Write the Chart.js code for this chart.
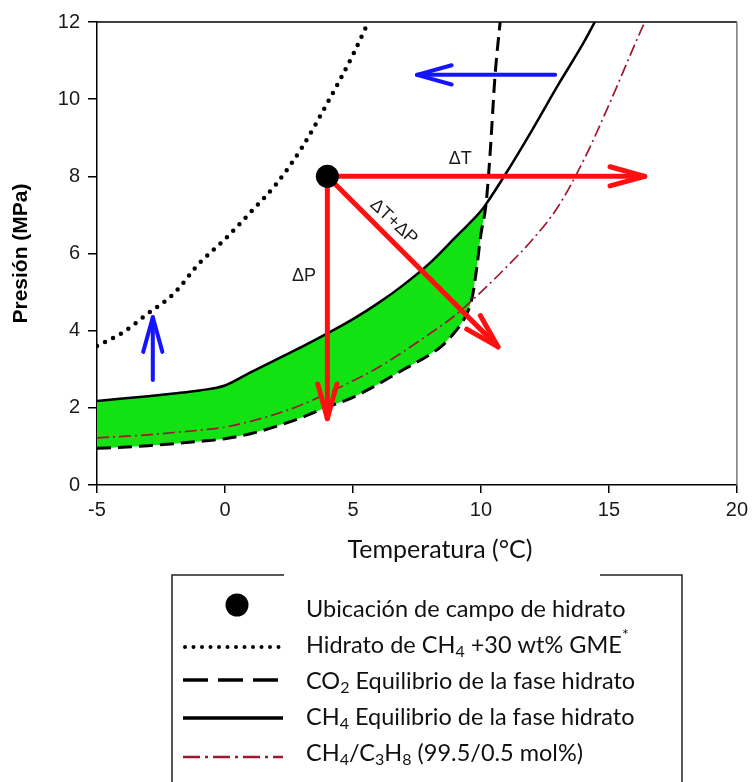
<!DOCTYPE html>
<html>
<head>
<meta charset="utf-8">
<script src="https://cdn.jsdelivr.net/npm/chart.js@4.4.1/dist/chart.umd.min.js"></script>
<style>
  body { margin: 0; background: #fff; }
  #wrap { width: 753px; height: 782px; position: relative; }
</style>
</head>
<body>
<div id="wrap"><canvas id="chart"></canvas></div>
<script>
// values (T in °C, P in MPa)
const gmeT = [-5, -4, -3, -2, -1, 0, 1, 2, 3, 4, 5, 5.6];
const gmeP = [3.6, 3.95, 4.45, 4.96, 5.75, 6.37, 7.07, 7.8, 8.74, 9.9, 11.15, 12];

const ch4T = [-5, -4, -3, -2, -1, 0, 1, 2, 3, 4, 5, 6, 7, 8, 9, 10, 10.2, 11, 12, 13, 14, 14.45];
const ch4P = [2.18, 2.24, 2.3, 2.37, 2.45, 2.58, 2.92, 3.25, 3.58, 3.93, 4.3, 4.72, 5.2, 5.75, 6.42, 7.1, 7.28, 8.1, 9.2, 10.35, 11.45, 12];

const co2T = [-5, -4, -3, -2, -1, 0, 1, 2, 3, 4, 5, 6, 7, 8, 8.5, 9, 9.3, 9.55, 9.7, 9.85, 10, 10.2, 10.36, 10.55, 10.75];
const co2P = [0.95, 0.98, 1.02, 1.07, 1.13, 1.2, 1.33, 1.52, 1.75, 2.02, 2.27, 2.62, 3.0, 3.38, 3.62, 3.98, 4.25, 4.6, 5.0, 5.7, 6.5, 7.28, 8.6, 10.6, 12];

const mixT = [-5, -4, -3, -2, -1, 0, 1, 2, 3, 4, 5, 6, 7, 8, 9, 10, 11, 12, 13, 14, 15, 16, 16.4];
const mixP = [1.22, 1.26, 1.3, 1.36, 1.42, 1.5, 1.65, 1.84, 2.08, 2.38, 2.7, 3.05, 3.47, 3.92, 4.4, 5.0, 5.65, 6.35, 7.2, 8.4, 9.85, 11.4, 12];

const siteT = [4];
const siteP = [8];

// arrows: [fromT, fromP, toT, toP]
const redArrows = [[4, 8, 16.4, 8], [4, 8, 4, 1.72], [4, 8, 10.67, 3.58]];
const blueArrows = [[12.9, 10.63, 7.5, 10.63], [-2.82, 2.72, -2.82, 4.35]];

const xTicks = [-5, 0, 5, 10, 15, 20];
const yTicks = [0, 2, 4, 6, 8, 10, 12];

const legendLabels = [
  [['Ubicación de campo de hidrato', 0]],
  [['Hidrato de CH', 0], ['4', 1], [' +30 wt% GME', 0], ['*', 2]],
  [['CO', 0], ['2', 1], [' Equilibrio de la fase hidrato', 0]],
  [['CH', 0], ['4', 1], [' Equilibrio de la fase hidrato', 0]],
  [['CH', 0], ['4', 1], ['/C', 0], ['3', 1], ['H', 0], ['8', 1], [' (99.5/0.5 mol%)', 0]]
];

const pts = (xs, ys) => xs.map((x, i) => ({ x: x, y: ys[i] }));
const ch4Pts = pts(ch4T, ch4P);
const co2Pts = pts(co2T, co2P);
// green region between the CH4 and CO2 curves, up to where they meet
const greenPts = ch4Pts.filter(p => p.x <= 10.2).concat(co2Pts.filter(p => p.x <= 10.2).reverse());

const RED = '#ff1010';
const BLUE = '#1414ff';
const MIX = '#a01830';
const SANS = "'Liberation Sans', Arial, sans-serif";
const TXT = "Lato, 'Open Sans', sans-serif";

function arrow(ctx, x1, y1, x2, y2, color, w) {
  const a = Math.atan2(y2 - y1, x2 - x1), L = 36, h = 0.27;
  ctx.save();
  ctx.strokeStyle = color;
  ctx.lineWidth = w;
  ctx.lineCap = 'round';
  ctx.lineJoin = 'round';
  ctx.beginPath();
  ctx.moveTo(x1, y1);
  ctx.lineTo(x2, y2);
  ctx.stroke();
  ctx.beginPath();
  ctx.moveTo(x2 - L * Math.cos(a - h), y2 - L * Math.sin(a - h));
  ctx.lineTo(x2, y2);
  ctx.lineTo(x2 - L * Math.cos(a + h), y2 - L * Math.sin(a + h));
  ctx.stroke();
  ctx.restore();
}

function richText(ctx, parts, x, y, size) {
  let cx = x;
  parts.forEach(([t, kind]) => {
    const s = kind === 0 ? size : Math.round(size * 0.66);
    ctx.font = s + 'px ' + TXT;
    const dy = kind === 1 ? size * 0.3 : kind === 2 ? -size * 0.42 : 0;
    ctx.fillText(t, cx, y + dy);
    cx += ctx.measureText(t).width;
  });
}

const extras = {
  id: 'extras',
  afterDatasetDraw(chart, args) {
    if (args.index !== 1) return;
    const { ctx, scales: { x, y } } = chart;
    ctx.save();
    ctx.beginPath();
    ctx.rect(chart.chartArea.left, chart.chartArea.top, chart.chartArea.width, chart.chartArea.height);
    ctx.clip();
    redArrows.forEach(a => arrow(ctx, x.getPixelForValue(a[0]), y.getPixelForValue(a[1]),
      x.getPixelForValue(a[2]), y.getPixelForValue(a[3]), RED, 5));
    blueArrows.forEach(a => arrow(ctx, x.getPixelForValue(a[0]), y.getPixelForValue(a[1]),
      x.getPixelForValue(a[2]), y.getPixelForValue(a[3]), BLUE, 4));
    ctx.restore();
  },
  afterDatasetsDraw(chart) {
    const { ctx, scales: { x, y }, chartArea: ca } = chart;
    ctx.save();
    ctx.fillStyle = '#1a1a1a';
    ctx.font = '18px ' + SANS;
    ctx.textAlign = 'center';
    ctx.textBaseline = 'middle';
    ctx.fillText('ΔT', x.getPixelForValue(9.19), y.getPixelForValue(8.45));
    ctx.fillText('ΔP', x.getPixelForValue(3.09), y.getPixelForValue(5.42));
    ctx.translate(x.getPixelForValue(6.59), y.getPixelForValue(6.82));
    ctx.rotate(43 * Math.PI / 180);
    ctx.fillText('ΔT+ΔP', 0, 0);
    ctx.restore();
    // top and right frame
    ctx.save();
    ctx.strokeStyle = '#000';
    ctx.lineWidth = 1.5;
    ctx.beginPath();
    ctx.moveTo(ca.left, ca.top);
    ctx.lineTo(ca.right, ca.top);
    ctx.stroke();
    ctx.strokeStyle = '#777';
    ctx.beginPath();
    ctx.moveTo(ca.right, ca.top);
    ctx.lineTo(ca.right, ca.bottom);
    ctx.stroke();
    ctx.restore();
  },
  afterDraw(chart) {
    const ctx = chart.ctx;
    ctx.save();
    // x axis title
    ctx.fillStyle = '#111';
    ctx.font = '25px ' + TXT;
    ctx.textAlign = 'center';
    ctx.textBaseline = 'middle';
    ctx.fillText('Temperatura (°C)', 440, 550);

    // legend box (top edge partly hidden behind the title)
    ctx.strokeStyle = '#222';
    ctx.lineWidth = 1.5;
    ctx.beginPath();
    ctx.moveTo(284, 575); ctx.lineTo(172, 575); ctx.lineTo(172, 790);
    ctx.moveTo(600, 575); ctx.lineTo(682, 575); ctx.lineTo(682, 790);
    ctx.stroke();

    const rows = [609, 645, 681, 717, 753];
    const x0 = 183, x1 = 283;
    // marker
    ctx.fillStyle = '#000';
    ctx.beginPath();
    ctx.arc(237, 605, 11.5, 0, Math.PI * 2);
    ctx.fill();
    // dotted
    ctx.strokeStyle = '#000';
    ctx.lineCap = 'round';
    ctx.lineWidth = 4;
    ctx.setLineDash([0, 8.5]);
    ctx.beginPath(); ctx.moveTo(x0 + 2, 647); ctx.lineTo(x1, 647); ctx.stroke();
    // dashed
    ctx.lineCap = 'butt';
    ctx.lineWidth = 3.5;
    ctx.setLineDash([25, 10]);
    ctx.beginPath(); ctx.moveTo(x0, 680); ctx.lineTo(x1, 680); ctx.stroke();
    // solid
    ctx.setLineDash([]);
    ctx.beginPath(); ctx.moveTo(x0, 718); ctx.lineTo(x1, 718); ctx.stroke();
    // dash-dot
    ctx.strokeStyle = MIX;
    ctx.lineWidth = 2.5;
    ctx.setLineDash([17, 5, 3, 5]);
    ctx.beginPath(); ctx.moveTo(x0, 757); ctx.lineTo(x1, 757); ctx.stroke();
    ctx.setLineDash([]);

    ctx.fillStyle = '#111';
    ctx.textAlign = 'left';
    ctx.textBaseline = 'middle';
    legendLabels.forEach((parts, i) => richText(ctx, parts, 306, rows[i], 23.5));
    ctx.restore();
  }
};

new Chart(document.getElementById('chart'), {
  type: 'line',
  data: {
    datasets: [
      { label: 'Ubicación de campo de hidrato', data: pts(siteT, siteP), showLine: false,
        pointRadius: 11.5, pointBackgroundColor: '#000', pointBorderWidth: 0 },
      { label: 'CH4/C3H8 (99.5/0.5 mol%)', data: pts(mixT, mixP), borderColor: MIX, borderWidth: 1.7,
        borderDash: [12, 4, 2, 4], pointRadius: 0, cubicInterpolationMode: 'monotone' },
      { label: 'CH4 Equilibrio de la fase hidrato', data: ch4Pts, borderColor: '#000', borderWidth: 2.5,
        pointRadius: 0, cubicInterpolationMode: 'monotone' },
      { label: 'CO2 Equilibrio de la fase hidrato', data: co2Pts, borderColor: '#000', borderWidth: 3,
        borderDash: [14, 7], pointRadius: 0, cubicInterpolationMode: 'monotone' },
      { label: 'Hidrato de CH4 +30 wt% GME', data: pts(gmeT, gmeP), borderColor: '#000', borderWidth: 4.5,
        borderDash: [0, 9], borderCapStyle: 'round', pointRadius: 0, cubicInterpolationMode: 'monotone' },
      { label: 'zona', data: greenPts, borderWidth: 0, borderColor: 'rgba(0,0,0,0)',
        backgroundColor: '#12e212', fill: 'shape', pointRadius: 0, tension: 0 }
    ]
  },
  options: {
    responsive: true,
    maintainAspectRatio: false,
    animation: false,
    layout: { padding: { top: 22, right: 13, bottom: 237, left: 0 } },
    plugins: { legend: { display: false }, tooltip: { enabled: false } },
    scales: {
      x: {
        type: 'linear', min: -5, max: 20,
        afterBuildTicks: s => { s.ticks = xTicks.map(v => ({ value: v })); },
        ticks: { color: '#1a1a1a', font: { family: SANS, size: 20 }, padding: 5 },
        grid: { drawOnChartArea: false, drawTicks: true, tickLength: 8, color: '#000', lineWidth: 1.5 },
        border: { color: '#000', width: 1.5 },
        afterFit: s => { s.height = 60; }
      },
      y: {
        min: 0, max: 12,
        afterBuildTicks: s => { s.ticks = yTicks.map(v => ({ value: v })); },
        ticks: { color: '#1a1a1a', font: { family: SANS, size: 20 }, padding: 8 },
        grid: { drawOnChartArea: false, drawTicks: true, tickLength: 9, color: '#000', lineWidth: 1.5 },
        border: { color: '#000', width: 1.5 },
        title: { display: true, text: 'Presión (MPa)', color: '#000',
          font: { family: SANS, size: 21, weight: 'bold' }, padding: { top: 9, bottom: 0 } },
        afterFit: s => { s.width = 97; }
      }
    }
  },
  plugins: [extras]
});
</script>
</body>
</html>
